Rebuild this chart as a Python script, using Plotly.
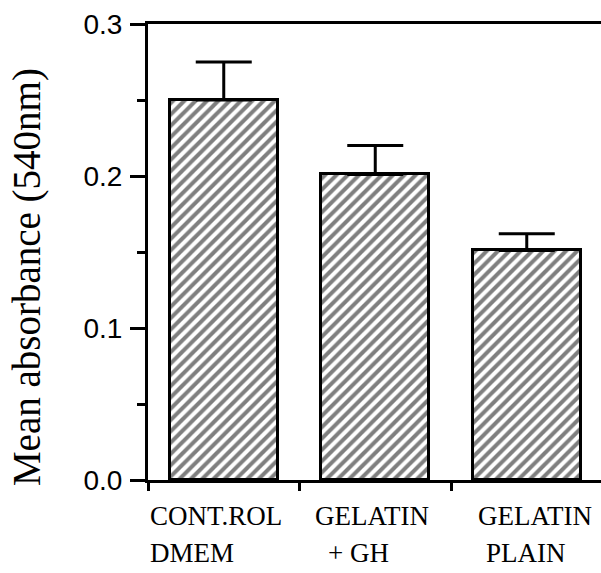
import plotly.graph_objects as go

# ---- data ----
label_line1 = ["CONT.ROL", "GELATIN", "GELATIN"]
label_line2 = ["DMEM", "+ GH", "PLAIN"]
mean_absorbance = [0.250, 0.201, 0.151]
sem_upper = [0.025, 0.019, 0.011]
y_ticks = [0.0, 0.1, 0.2, 0.3]
y_tick_text = ["0.0", "0.1", "0.2", "0.3"]
y_title = "Mean absorbance (540nm)"

positions = list(range(len(mean_absorbance)))

fig = go.Figure()
fig.add_trace(go.Bar(
    x=positions,
    y=mean_absorbance,
    width=0.71,
    marker=dict(
        color="white",
        line=dict(color="black", width=3),
        pattern=dict(shape="/", size=8, solidity=0.5, fgcolor="black", bgcolor="white"),
    ),
    error_y=dict(
        type="data",
        symmetric=False,
        array=sem_upper,
        arrayminus=[0 for _ in sem_upper],
        color="black",
        thickness=3,
        width=28,
    ),
    showlegend=False,
    hoverinfo="skip",
))

# two-line category labels, left-aligned like the original
shifts1 = [-76, -62, -51]
shifts2 = [-76, -49, -43]
for i, (t1, t2) in enumerate(zip(label_line1, label_line2)):
    fig.add_annotation(x=i, y=0, xref="x", yref="paper", text=t1,
                       xanchor="left", yanchor="top", xshift=shifts1[i], yshift=-19,
                       showarrow=False,
                       font=dict(family="Liberation Serif", size=27, color="black"))
    fig.add_annotation(x=i, y=0, xref="x", yref="paper", text=t2,
                       xanchor="left", yanchor="top", xshift=shifts2[i], yshift=-56,
                       showarrow=False,
                       font=dict(family="Liberation Serif", size=27, color="black"))

# y-axis title, placed like the original (slightly below the plot centre)
fig.add_annotation(x=0, y=0.445, xref="paper", yref="paper", text=y_title,
                   textangle=-90, xanchor="center", yanchor="middle", xshift=-121,
                   showarrow=False,
                   font=dict(family="Liberation Serif", size=39, color="black"))

fig.update_layout(
    width=601, height=573,
    margin=dict(l=148, r=0, t=24, b=93),
    plot_bgcolor="white", paper_bgcolor="white",
    bargap=0,
)
fig.update_xaxes(
    range=[-0.5, 2.49],
    tickmode="array", tickvals=[-0.5, 0.5, 1.5, 2.5],
    showticklabels=False,
    ticks="outside", ticklen=8, tickwidth=3, tickcolor="black",
    showline=True, linecolor="black", linewidth=3, mirror=True,
    showgrid=False, zeroline=False,
)
fig.update_yaxes(
    range=[0, 0.3],
    tickmode="array", tickvals=y_ticks, ticktext=y_tick_text,
    ticks="outside", ticklen=15, tickwidth=3, tickcolor="black",
    minor=dict(dtick=0.05, ticks="outside", ticklen=8, tickwidth=3, tickcolor="black", showgrid=False),
    showline=True, linecolor="black", linewidth=3,
    showgrid=False, zeroline=False,
    tickfont=dict(family="Liberation Sans", size=28, color="black"),
    ticklabelstandoff=2,
)

fig.write_html("out.html", config={"displayModeBar": False},
               post_script="document.body.style.margin='0';document.body.style.overflow='hidden';")
